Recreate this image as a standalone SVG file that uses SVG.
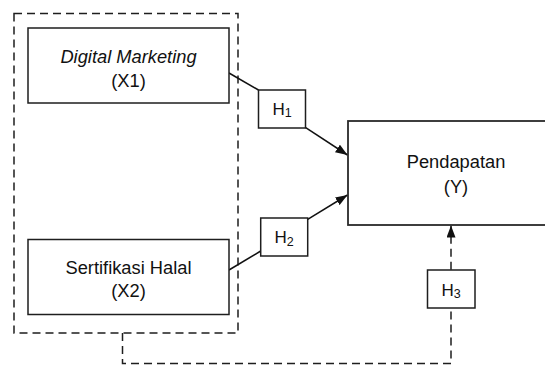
<svg xmlns="http://www.w3.org/2000/svg" width="545" height="365" viewBox="0 0 545 365">
  <style>
    .box { fill: #ffffff; stroke: #1e1e1e; stroke-width: 1.5; }
    .main { fill: #ffffff; stroke: #2a2a2a; stroke-width: 1.8; }
    .dash { fill: none; stroke: #1e1e1e; stroke-width: 1.5; stroke-dasharray: 8 5; }
    .link { fill: none; stroke: #111111; stroke-width: 1.5; }
    .lbl { font-family: "Liberation Sans", Arial, sans-serif; font-size: 18.3px; fill: #111111; text-anchor: middle; }
    .hyp { font-family: "Liberation Sans", Arial, sans-serif; font-size: 17px; fill: #111111; text-anchor: middle; }
  </style>
  <defs>
    <marker id="arrow" markerUnits="userSpaceOnUse" markerWidth="12" markerHeight="9" refX="12" refY="4.5" orient="auto">
      <path d="M0,0 L12,4.5 L0,9 z" fill="#111111"/>
    </marker>
  </defs>

  <rect width="545" height="365" fill="#ffffff"/>

  <!-- dashed grouping frame around the two independent variables -->
  <rect id="frame" class="dash" x="14" y="13.5" width="224" height="319.5"/>

  <g id="connectors">
    <line class="link" x1="229" y1="73" x2="258.5" y2="90"/>
    <line class="link" x1="305.7" y1="127.7" x2="347.5" y2="155" marker-end="url(#arrow)"/>
    <line class="link" x1="229" y1="270" x2="260.7" y2="251"/>
    <line class="link" x1="307.7" y1="219.3" x2="347.5" y2="195" marker-end="url(#arrow)"/>
    <path class="dash" d="M122.5,333 V363.5 H451 V308"/>
    <path class="dash" d="M451,269.7 V225.5" marker-end="url(#arrow)"/>
  </g>

  <g id="x1">
    <rect class="box" x="28" y="28" width="201" height="75"/>
    <text class="lbl" x="128.5" y="63" font-style="italic">Digital Marketing</text>
    <text class="lbl" x="128.5" y="86.5">(X1)</text>
  </g>

  <g id="x2">
    <rect class="box" x="28" y="239.5" width="201" height="75"/>
    <text class="lbl" x="128.5" y="274">Sertifikasi Halal</text>
    <text class="lbl" x="128.5" y="297">(X2)</text>
  </g>

  <g id="y">
    <rect class="main" x="348" y="121" width="215" height="104"/>
    <text class="lbl" x="456" y="168">Pendapatan</text>
    <text class="lbl" x="456" y="192.5">(Y)</text>
  </g>

  <g id="h1">
    <rect class="box" x="258.5" y="90" width="47" height="38"/>
    <text class="hyp" x="282" y="115">H<tspan font-size="12.5" dy="2.3">1</tspan></text>
  </g>

  <g id="h2">
    <rect class="box" x="260.7" y="218" width="47" height="38"/>
    <text class="hyp" x="284.2" y="243.3">H<tspan font-size="12.5" dy="2.3">2</tspan></text>
  </g>

  <g id="h3">
    <rect class="box" x="427.5" y="270" width="47.5" height="38"/>
    <text class="hyp" x="451.2" y="295.5">H<tspan font-size="12.5" dy="2.3">3</tspan></text>
  </g>
</svg>
